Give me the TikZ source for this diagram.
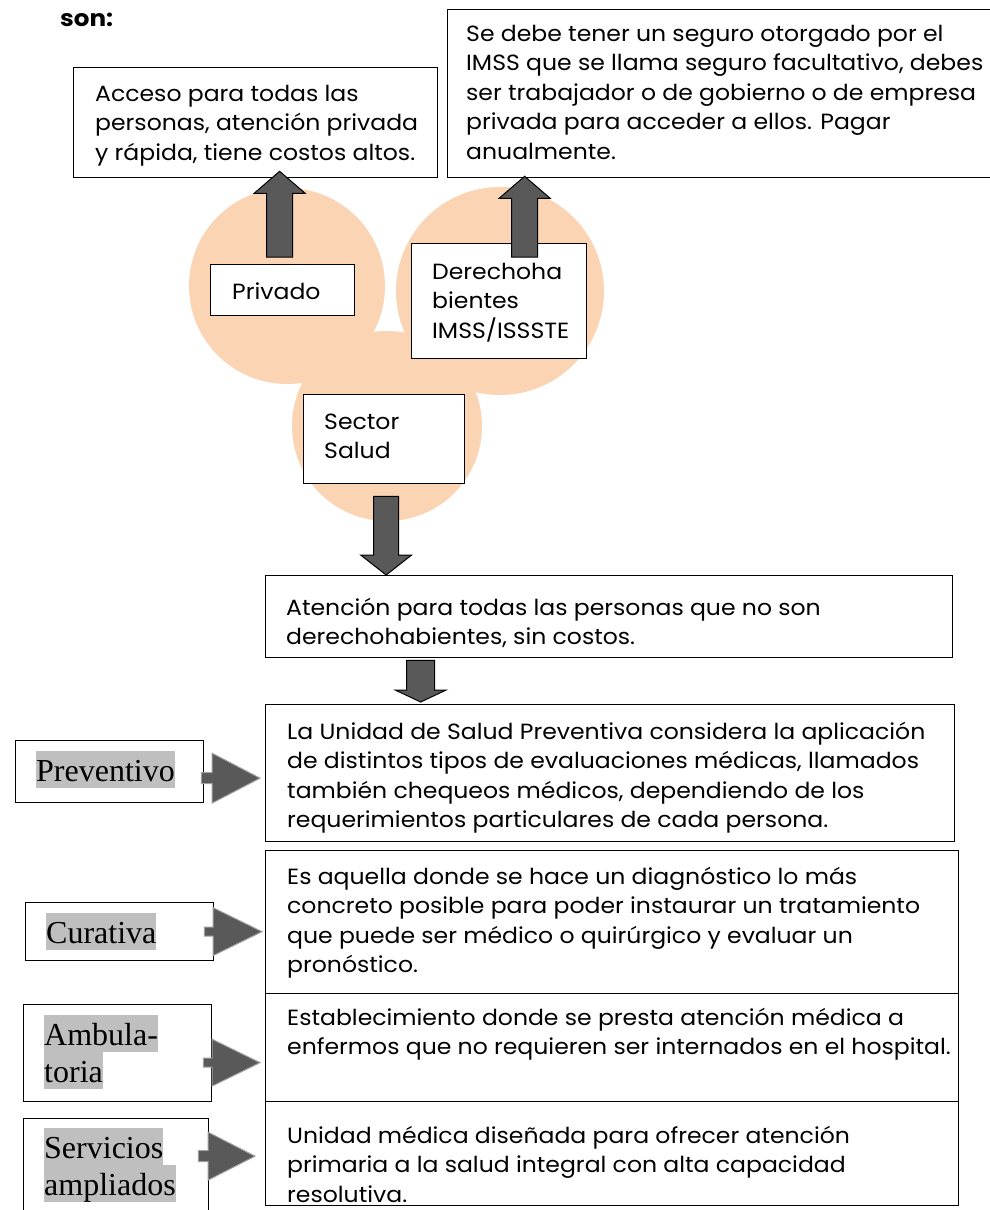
\documentclass[tikz,border=0pt]{standalone}
\usepackage{fontspec}
\setmainfont{Poppins}[FakeStretch=1.07]
\newfontfamily\timesf{Liberation Serif}
\usetikzlibrary{calc}
\definecolor{peach}{HTML}{FBD4B4}
\definecolor{arrowfill}{HTML}{595959}
\definecolor{arrowedge}{HTML}{A0A0A0}
\definecolor{hlgray}{HTML}{BFBFBF}
\newcommand\bodyfont{\fontsize{22pt}{29.5pt}\selectfont}
\newcommand\labelfont{\timesf\fontsize{32pt}{37pt}\selectfont}
\newcommand\hlbox[1]{{\setlength{\fboxsep}{0pt}\colorbox{hlgray}{\rule[-7pt]{0pt}{37pt}#1}}}
% #1 style, #2 tail, #3 tip, #4 shaft half width, #5 head half width, #6 head length
\newcommand\blockarrow[6][]{%
  \coordinate (ba-b) at ($(#3)!#6!(#2)$);
  \draw[#1] ($(#2)!#4!90:(#3)$) -- ($(ba-b)!#4!-90:(#2)$) -- ($(ba-b)!#5!-90:(#2)$)
    -- (#3) -- ($(ba-b)!#5!90:(#2)$) -- ($(ba-b)!#4!90:(#2)$) -- ($(#2)!#4!-90:(#3)$) -- cycle;}
\begin{document}
\begin{tikzpicture}[x=1pt,y=-1pt,
  box/.style={draw=black, line width=1.3pt, fill=white, anchor=north west, inner sep=0pt},
  txt/.style={anchor=base west, inner sep=0pt, font=\bodyfont},
  lbl/.style={anchor=base west, inner sep=0pt, font=\labelfont},
  varrow/.style={fill=arrowfill, draw=black, line width=1pt, line join=miter},
  harrow/.style={fill=arrowfill, draw=arrowedge, line width=1pt, line join=miter}]
\useasboundingbox (0,0) rectangle (990,1210);
\fill[white] (0,0) rectangle (990,1210);

% circles
\fill[peach] (287,286) circle[radius=98pt];
\fill[peach] (500,291) circle[radius=104pt];
\fill[peach] (387,426) circle[radius=95pt];

% title
\node[txt, font=\fontsize{23pt}{29.5pt}\selectfont\bfseries] (son) at (60,26) {son:};

% top boxes
\node[box, minimum width=364pt, minimum height=110pt] (acc) at (73,67) {};
\node[txt] (acct) at ($(acc.north west)+(22,34)$) {\begin{tabular}[t]{@{}l@{}}Acceso para todas las\\ personas, atención privada\\ y rápida, tiene costos altos.\end{tabular}};

\node[box, minimum width=545pt, minimum height=168pt] (seg) at (447,9) {};
\node[txt] (segt) at ($(seg.north west)+(19,32)$) {\begin{tabular}[t]{@{}l@{}}Se debe tener un seguro otorgado por el\\ IMSS que se llama seguro facultativo, debes\\ ser trabajador o de gobierno o de empresa\\ privada para acceder a ellos. Pagar\\ anualmente.\end{tabular}};

% circle boxes
\node[box, minimum width=144pt, minimum height=51pt] (priv) at (210,264) {};
\node[txt] (privt) at ($(priv.north west)+(22,35)$) {Privado};

\node[box, minimum width=175pt, minimum height=115pt] (der) at (411,243) {};
\node[txt] (dert) at ($(der.north west)+(21,36)$) {\begin{tabular}[t]{@{}l@{}}Derechoha\\ bientes\\ IMSS/ISSSTE\end{tabular}};

\node[box, minimum width=161pt, minimum height=89pt] (sec) at (303,394) {};
\node[txt] (sect) at ($(sec.north west)+(21,35)$) {\begin{tabular}[t]{@{}l@{}}Sector\\ Salud\end{tabular}};

% middle box
\node[box, minimum width=687pt, minimum height=82pt] (aten) at (265,575) {};
\node[txt] (atent) at ($(aten.north west)+(21,40)$) {\begin{tabular}[t]{@{}l@{}}Atención para todas las personas que no son\\ derechohabientes, sin costos.\end{tabular}};

% right column
\node[box, minimum width=689pt, minimum height=137pt] (prevd) at (265,704) {};
\node[txt] (prevdt) at ($(prevd.north west)+(22,35)$) {\begin{tabular}[t]{@{}l@{}}La Unidad de Salud Preventiva considera la aplicación\\ de distintos tipos de evaluaciones médicas, llamados\\ también chequeos médicos, dependiendo de los\\ requerimientos particulares de cada persona.\end{tabular}};

\node[box, minimum width=693pt, minimum height=143pt] (curd) at (265,850) {};
\node[txt] (curdt) at ($(curd.north west)+(22,34)$) {\begin{tabular}[t]{@{}l@{}}Es aquella donde se hace un diagnóstico lo más\\ concreto posible para poder instaurar un tratamiento\\ que puede ser médico o quirúrgico y evaluar un\\ pronóstico.\end{tabular}};

\node[box, minimum width=693pt, minimum height=108pt] (ambd) at (265,993) {};
\node[txt] (ambdt) at ($(ambd.north west)+(22,32)$) {\begin{tabular}[t]{@{}l@{}}Establecimiento donde se presta atención médica a\\ enfermos que no requieren ser internados en el hospital.\end{tabular}};

\node[box, minimum width=693pt, minimum height=104pt] (servd) at (265,1101) {};
\node[txt] (servdt) at ($(servd.north west)+(22,42)$) {\begin{tabular}[t]{@{}l@{}}Unidad médica diseñada para ofrecer atención\\ primaria a la salud integral con alta capacidad\\ resolutiva.\end{tabular}};

% left labels
\node[box, minimum width=188pt, minimum height=62pt] (prev) at (15,740) {};
\node[lbl] (prevt) at ($(prev.north west)+(21,41)$) {\hlbox{Preventivo}};

\node[box, minimum width=188pt, minimum height=58pt] (cur) at (25,902) {};
\node[lbl] (curt) at ($(cur.north west)+(21,41)$) {\hlbox{Curativa}};

\node[box, minimum width=188pt, minimum height=97pt] (amb) at (23,1004) {};
\node[lbl] (ambt) at ($(amb.north west)+(21,41)$) {\vtop{\hbox{\hlbox{Ambula-}}\hbox{\hlbox{toria}}}};

\node[box, minimum width=185pt, minimum height=107pt] (serv) at (23,1118) {};
\node[lbl] (servt) at ($(serv.north west)+(21,40)$) {\vtop{\hbox{\hlbox{Servicios}}\hbox{\hlbox{ampliados}}}};

% arrow end points
\coordinate (u1s) at ($(priv.north)+(-3,-7)$);
\coordinate (u1e) at ($(u1s |- acc.south)+(0,-7)$);
\coordinate (u2s) at ($(der.north)+(25.5,14)$);
\coordinate (u2e) at ($(u2s |- seg.south)+(0,-2)$);
\coordinate (d1s) at ($(sec.south)+(2,12)$);
\coordinate (d1e) at (d1s |- aten.north);
\coordinate (d2s) at ($(d1s |- aten.south)+(34.5,2)$);
\coordinate (d2e) at ($(d2s |- prevd.north)+(0,-2)$);
\coordinate (r1s) at ($(prev.east)+(-3,6.5)$);
\coordinate (r1e) at ($(r1s -| prevd.west)+(-5,0)$);
\coordinate (r2s) at ($(cur.east)+(-10,0)$);
\coordinate (r2e) at ($(r2s -| curd.west)+(-3,0)$);
\coordinate (r3s) at ($(amb.east)+(-9,9.5)$);
\coordinate (r3e) at ($(r3s -| ambd.west)+(-5,0)$);
\coordinate (r4s) at ($(serv.east)+(-11,-16)$);
\coordinate (r4e) at ($(r4s -| servd.west)+(-10,0)$);

% block arrows
\blockarrow[varrow]{u1s}{u1e}{13pt}{25.5pt}{22pt}
\blockarrow[varrow]{u2s}{u2e}{13pt}{25.5pt}{22pt}
\blockarrow[varrow]{d1s}{d1e}{12.5pt}{25.5pt}{20pt}
\blockarrow[varrow]{d2s}{d2e}{14pt}{25.5pt}{12pt}
\blockarrow[harrow]{r1s}{r1e}{5.5pt}{25pt}{48pt}
\blockarrow[harrow]{r2s}{r2e}{4.5pt}{24pt}{49pt}
\blockarrow[harrow]{r3s}{r3e}{4.5pt}{23.5pt}{48pt}
\blockarrow[harrow]{r4s}{r4e}{5.5pt}{24pt}{47pt}
\end{tikzpicture}
\end{document}
